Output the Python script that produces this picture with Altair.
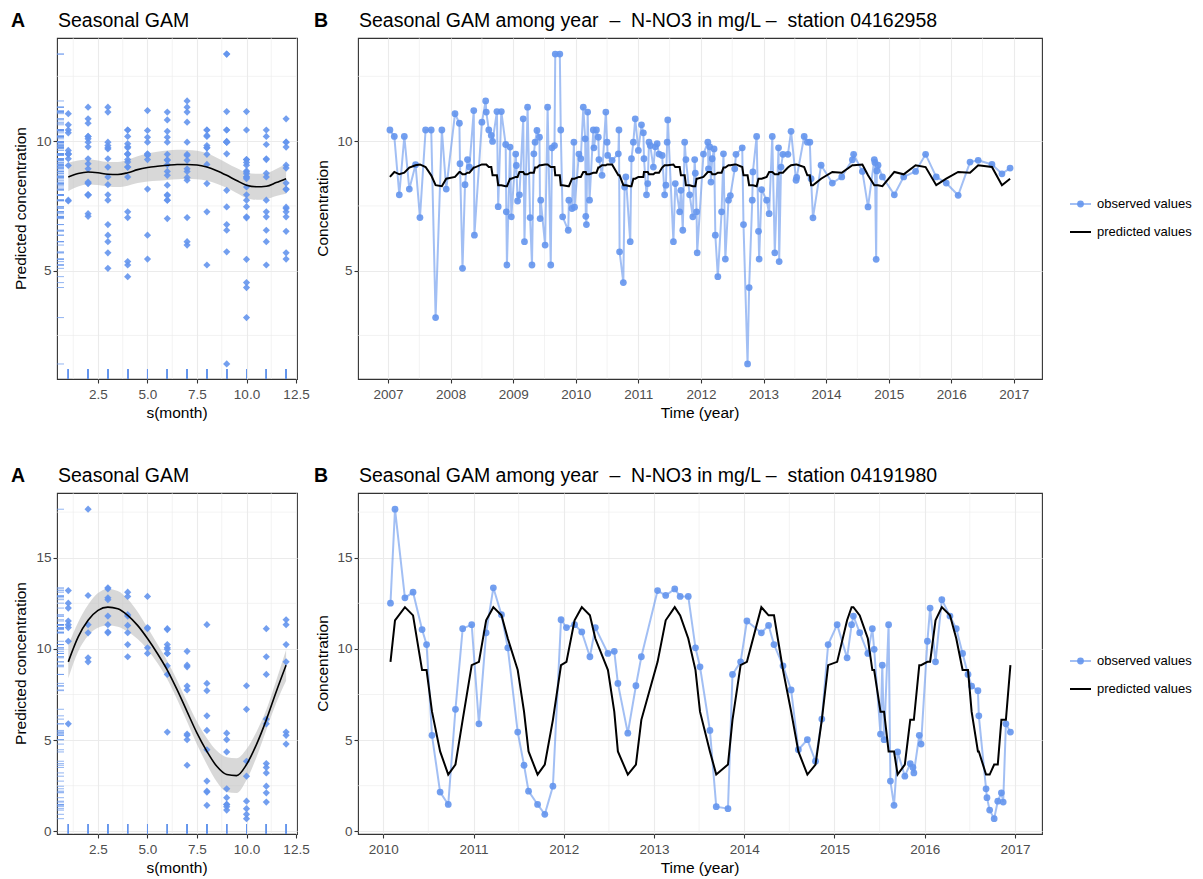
import altair as alt
import pandas as pd

FONT = "Liberation Sans"
BLUE = "#6495ED"

# ---------------- station 04162958 (top row): decimal year, N-NO3 (mg/L)
TOP_TIME = [
    2007.03, 2007.10, 2007.18, 2007.26, 2007.34, 2007.44, 2007.51, 2007.60, 2007.69, 2007.76, 2007.86, 2007.93,
    2008.07, 2008.14, 2008.15, 2008.19, 2008.23, 2008.27, 2008.30, 2008.37, 2008.38, 2008.50, 2008.56, 2008.57,
    2008.61, 2008.65, 2008.67, 2008.74, 2008.76, 2008.81, 2008.88, 2008.89, 2008.90, 2008.95, 2008.97,
    2009.04, 2009.05, 2009.07, 2009.10, 2009.16, 2009.18, 2009.23, 2009.27, 2009.30, 2009.33, 2009.35, 2009.38,
    2009.42, 2009.43, 2009.44, 2009.51, 2009.55, 2009.60, 2009.62, 2009.66, 2009.672, 2009.745, 2009.76, 2009.79,
    2009.88, 2009.89, 2009.94, 2009.97, 2009.98,
    2010.05, 2010.08, 2010.12, 2010.15, 2010.16, 2010.17, 2010.19, 2010.22, 2010.28, 2010.29, 2010.33, 2010.36,
    2010.37, 2010.42, 2010.48, 2010.50, 2010.51, 2010.58, 2010.68, 2010.69, 2010.70, 2010.76, 2010.78, 2010.80,
    2010.87, 2010.89, 2010.92, 2010.95,
    2011.00, 2011.05, 2011.08, 2011.09, 2011.13, 2011.15, 2011.17, 2011.19, 2011.24, 2011.27, 2011.30, 2011.33,
    2011.38, 2011.42, 2011.44, 2011.46, 2011.47, 2011.56, 2011.59, 2011.66, 2011.68, 2011.71, 2011.74, 2011.76,
    2011.82, 2011.87, 2011.90, 2011.91, 2011.93, 2011.94,
    2012.04, 2012.11, 2012.12, 2012.14, 2012.16, 2012.18, 2012.21, 2012.23, 2012.27, 2012.33, 2012.36, 2012.39,
    2012.44, 2012.47, 2012.54, 2012.56, 2012.66, 2012.68, 2012.745, 2012.77, 2012.82, 2012.83, 2012.89, 2012.92,
    2012.93, 2012.97,
    2013.05, 2013.09, 2013.14, 2013.18, 2013.24, 2013.25, 2013.28, 2013.31, 2013.39, 2013.44, 2013.52, 2013.53,
    2013.65, 2013.70, 2013.74, 2013.76, 2013.79, 2013.92,
    2014.10, 2014.25, 2014.42, 2014.44, 2014.58, 2014.67, 2014.77, 2014.78, 2014.80, 2014.81, 2014.83, 2014.90,
    2015.09, 2015.24, 2015.43, 2015.59, 2015.76, 2015.92,
    2016.11, 2016.30, 2016.43, 2016.65, 2016.81, 2016.94,
]
TOP_VALUE = [
    10.43, 10.18, 7.93, 10.18, 8.15, 9.09, 7.05, 10.43, 10.43, 3.19, 10.43, 8.15,
    11.06, 10.69, 9.13, 5.09, 8.32, 9.29, 9.00, 11.18, 6.37, 10.73, 11.55, 11.12,
    10.43, 10.22, 9.99, 11.14, 7.47, 11.14, 9.87, 7.27, 5.22, 9.77, 7.08,
    9.50, 9.06, 7.69, 7.93, 10.86, 6.12, 11.31, 7.05, 5.22, 9.51, 9.96, 10.41,
    10.15, 7.01, 7.72, 5.99, 11.31, 5.22, 9.74, 9.83, 13.36, 13.36, 10.43, 7.08,
    6.56, 7.72, 7.40, 9.96, 7.45,
    9.50, 9.32, 11.31, 10.09, 7.10, 6.78, 11.12, 7.72, 10.43, 9.74, 10.43, 10.15,
    9.29, 8.68, 11.12, 9.96, 9.45, 9.26, 9.51, 10.43, 5.73, 4.54, 8.23, 8.62,
    6.12, 9.32, 9.96, 10.86,
    9.64, 10.63, 10.32, 9.32, 7.93, 8.36, 9.96, 9.83, 9.00, 9.78, 9.90, 9.50,
    9.45, 7.93, 8.30, 9.96, 10.82, 6.12, 8.36, 7.27, 8.10, 6.56, 9.96, 9.29,
    7.93, 7.08, 9.29, 8.76, 7.27, 5.69,
    9.50, 9.96, 8.93, 9.78, 8.42, 9.32, 9.70, 6.37, 4.77, 7.27, 9.51, 5.45,
    7.72, 7.90, 8.93, 9.49, 9.74, 6.78, 1.40, 4.35, 7.72, 8.81, 10.18, 6.52,
    5.45, 8.13,
    7.72, 7.20, 10.18, 5.69, 9.74, 5.35, 9.00, 9.49, 9.49, 10.38, 8.49, 8.60,
    10.18, 9.96, 9.96, 8.55, 7.04, 9.07,
    8.38, 8.62, 9.28, 9.49, 8.83, 7.46, 9.29, 9.18, 5.44, 8.85, 9.07, 8.62,
    7.93, 8.62, 8.83, 9.49, 8.62, 8.38,
    7.91, 9.19, 9.26, 9.10, 8.74, 8.96,
]

# ---------------- station 04191980 (bottom row)
BOT_TIME = [
    2010.08, 2010.13, 2010.24, 2010.33, 2010.43, 2010.48, 2010.54, 2010.63, 2010.72, 2010.80, 2010.88, 2010.98,
    2011.06, 2011.14, 2011.22, 2011.31, 2011.38, 2011.49, 2011.56, 2011.61, 2011.71, 2011.79, 2011.88, 2011.97,
    2012.03, 2012.12, 2012.20, 2012.29, 2012.35, 2012.49, 2012.56, 2012.60, 2012.71, 2012.80, 2012.86,
    2013.04, 2013.13, 2013.23, 2013.29, 2013.38, 2013.46, 2013.51, 2013.62, 2013.69, 2013.82, 2013.87, 2013.96,
    2014.03, 2014.19, 2014.27, 2014.33, 2014.43, 2014.52, 2014.60, 2014.70, 2014.79, 2014.86, 2014.93,
    2015.03, 2015.14, 2015.19, 2015.21, 2015.28, 2015.37, 2015.42, 2015.44, 2015.51, 2015.53, 2015.55, 2015.60,
    2015.62, 2015.66, 2015.70, 2015.78, 2015.84, 2015.87, 2015.88, 2015.94, 2015.96,
    2016.03, 2016.06, 2016.12, 2016.19, 2016.28, 2016.35, 2016.42, 2016.48, 2016.52, 2016.59, 2016.60, 2016.68,
    2016.69, 2016.72, 2016.77, 2016.81, 2016.85, 2016.87, 2016.90, 2016.95,
]
BOT_VALUE = [
    12.51, 17.66, 12.80, 13.11, 11.06, 10.24, 5.26, 2.15, 1.47, 6.69, 11.11, 11.33,
    5.89, 10.88, 13.35, 11.88, 10.06, 5.44, 3.62, 2.20, 1.47, 0.93, 2.47, 11.60,
    11.17, 11.33, 10.93, 9.57, 11.17, 9.75, 9.87, 8.11, 5.38, 7.98, 9.57,
    13.20, 12.93, 13.29, 12.88, 12.88, 10.06, 9.02, 5.53, 1.35, 1.24, 8.60, 9.29,
    11.53, 10.88, 11.29, 10.24, 9.07, 7.75, 4.47, 5.02, 3.84, 6.15, 10.24,
    11.33, 9.51, 11.33, 11.80, 10.89, 9.75, 11.11, 9.98, 5.33, 9.11, 5.02, 11.33,
    2.75, 1.42, 4.35, 3.02, 3.71, 3.50, 3.20, 5.26, 4.78,
    10.42, 12.24, 9.29, 12.70, 11.80, 11.11, 9.75, 8.60, 7.96, 7.71, 6.33, 2.33,
    1.84, 1.16, 0.69, 1.65, 2.11, 1.60, 5.89, 5.44,
]

# ---------------- seasonal GAM fits (month grid) with standard errors
GAM_MONTH = [1, 1.5, 2, 2.5, 3, 3.5, 4, 4.5, 5, 5.5, 6, 6.5, 7, 7.5, 8, 8.5, 9, 9.5, 10, 10.5, 11, 11.5, 12]
TOP_FIT = [8.62, 8.75, 8.81, 8.78, 8.72, 8.71, 8.78, 8.90, 8.98, 9.03, 9.07, 9.10, 9.10, 9.08, 9.00, 8.86,
           8.68, 8.48, 8.30, 8.24, 8.26, 8.40, 8.55]
TOP_SE = [0.55, 0.50, 0.48, 0.47, 0.47, 0.48, 0.50, 0.52, 0.54, 0.56, 0.57, 0.57, 0.56, 0.55, 0.53, 0.50,
          0.48, 0.48, 0.49, 0.50, 0.50, 0.52, 0.58]
BOT_FIT = [9.29, 10.66, 11.57, 12.11, 12.29, 12.20, 11.84, 11.29, 10.57, 9.75, 8.84, 7.75, 6.56, 5.38, 4.38,
           3.56, 3.11, 3.05, 3.66, 4.75, 6.11, 7.65, 9.11]
BOT_SE = [0.90, 0.80, 0.85, 0.95, 1.00, 0.98, 0.90, 0.75, 0.60, 0.52, 0.50, 0.52, 0.55, 0.62, 0.72, 0.85,
          0.95, 0.95, 0.85, 0.70, 0.55, 0.62, 0.85]

# ---------------- axis ticks / texts
MONTH_TICKS = [2.5, 5.0, 7.5, 10.0, 12.5]
MONTH_MINOR = [1.25, 3.75, 6.25, 8.75, 11.25]
TOP_Y_TICKS = [5, 10]
TOP_Y_MINOR = [2.5, 7.5, 12.5]
BOT_Y_TICKS = [0, 5, 10, 15]
BOT_Y_MINOR = [2.5, 7.5, 12.5, 17.5]
TOP_YEARS = list(range(2007, 2018))
TOP_YEAR_MINOR = [y + 0.5 for y in range(2007, 2017)]
BOT_YEARS = list(range(2010, 2018))
BOT_YEAR_MINOR = [y + 0.5 for y in range(2010, 2017)]
NB = "\u00a0"
TITLE_A = "Seasonal GAM"
TITLE_B_TOP = f"Seasonal GAM among year {NB}\u2013{NB} N-NO3 in mg/L \u2013{NB} station 04162958"
TITLE_B_BOT = f"Seasonal GAM among year {NB}\u2013{NB} N-NO3 in mg/L \u2013{NB} station 04191980"
LEGEND = ["observed values", "predicted values"]

assert len(TOP_TIME) == len(TOP_VALUE)
assert len(BOT_TIME) == len(BOT_VALUE)

W_A, W_B, H = 240, 684, 341
TITLE_SIZE = 19.5
AXIS_TITLE_SIZE = 15.5


def month_of(t):
    frac = t - int(t)
    return min(12, int(frac * 12 + 1e-9) + 1)


def text(label, x, y, size, weight="normal", angle=0, align="left", baseline="alphabetic", color="black"):
    return alt.Chart(pd.DataFrame({"label": [label]})).mark_text(
        font=FONT, fontSize=size, fontWeight=weight, angle=angle, align=align,
        baseline=baseline, color=color
    ).encode(text="label:N", x=alt.value(x), y=alt.value(y))


def panel_a(times, values, fit, se, ydom, yticks, yminor):
    obs = pd.DataFrame({"month": [month_of(t) for t in times], "value": values})
    gam = pd.DataFrame({"m": GAM_MONTH, "fit": fit,
                        "lo": [f - s for f, s in zip(fit, se)],
                        "hi": [f + s for f, s in zip(fit, se)]})
    xs = alt.Scale(domain=[0.43, 12.55], nice=False, zero=False)
    ys = alt.Scale(domain=ydom, nice=False, zero=False)
    xa = alt.Axis(values=MONTH_TICKS, format=".1f", title=None, grid=True)
    ya = alt.Axis(values=yticks, format="d", title=None, grid=True)
    X = lambda f: alt.X(f, scale=xs, axis=xa)
    Y = lambda f: alt.Y(f, scale=ys, axis=ya)

    vgrid = alt.Chart(pd.DataFrame({"x": MONTH_MINOR})).mark_rule(color="#EBEBEB", strokeWidth=0.6).encode(x=X("x:Q"))
    hgrid = alt.Chart(pd.DataFrame({"y": yminor})).mark_rule(color="#EBEBEB", strokeWidth=0.6).encode(y=Y("y:Q"))
    ribbon = alt.Chart(gam).mark_area(color="#BEBEBE", opacity=0.6, interpolate="monotone").encode(
        x=X("m:Q"), y=Y("lo:Q"), y2="hi:Q")
    rug_y = alt.Chart(obs).mark_rule(color=BLUE, strokeWidth=0.7).encode(
        y=Y("value:Q"), x=alt.value(0), x2=alt.value(7))
    rug_x = alt.Chart(obs).mark_rule(color=BLUE, strokeWidth=0.7).encode(
        x=X("month:Q"), y=alt.value(H - 10), y2=alt.value(H))
    pts = alt.Chart(obs).mark_point(shape="diamond", filled=True, size=52, color=BLUE, opacity=0.9,
                                    strokeWidth=0).encode(x=X("month:Q"), y=Y("value:Q"))
    line = alt.Chart(gam).mark_line(color="black", strokeWidth=1.6, interpolate="monotone").encode(
        x=X("m:Q"), y=Y("fit:Q"))
    t1 = text("A", -46, -11, TITLE_SIZE, weight="bold")
    t2 = text(TITLE_A, 1, -11, TITLE_SIZE)
    t3 = text("s(month)", W_A / 2, H + 39, AXIS_TITLE_SIZE, align="center")
    t4 = text("Predicted concentration", -31, H / 2, AXIS_TITLE_SIZE, angle=270, align="center")
    return alt.layer(vgrid, hgrid, ribbon, pts, rug_y, rug_x, line, t1, t2, t3, t4).properties(
        width=W_A, height=H)


def panel_b(times, values, fit, xdom, years, yminor_x, ydom, yticks, yminor, title, leg_y):
    lookup = dict(zip(GAM_MONTH, fit))
    obs = pd.DataFrame({"t": times, "v": values,
                        "pred": [lookup[month_of(t)] for t in times]})
    xs = alt.Scale(domain=xdom, nice=False, zero=False)
    ys = alt.Scale(domain=ydom, nice=False, zero=False)
    xa = alt.Axis(values=years, format="d", title=None, grid=True)
    ya = alt.Axis(values=yticks, format="d", title=None, grid=True)
    X = lambda f: alt.X(f, scale=xs, axis=xa)
    Y = lambda f: alt.Y(f, scale=ys, axis=ya)

    vgrid = alt.Chart(pd.DataFrame({"x": yminor_x})).mark_rule(color="#EBEBEB", strokeWidth=0.6).encode(x=X("x:Q"))
    hgrid = alt.Chart(pd.DataFrame({"y": yminor})).mark_rule(color="#EBEBEB", strokeWidth=0.6).encode(y=Y("y:Q"))
    oline = alt.Chart(obs).mark_line(color=BLUE, strokeOpacity=0.6, strokeWidth=2).encode(
        x=X("t:Q"), y=Y("v:Q"), order="t:Q")
    pts = alt.Chart(obs).mark_circle(size=46, color=BLUE, opacity=0.9).encode(x=X("t:Q"), y=Y("v:Q"))
    pline = alt.Chart(obs).mark_line(color="black", strokeWidth=2).encode(
        x=X("t:Q"), y=Y("pred:Q"), order="t:Q")
    t1 = text("B", -44, -11, TITLE_SIZE, weight="bold")
    t2 = text(title, 1, -11, TITLE_SIZE)
    t3 = text("Time (year)", W_B / 2, H + 39, AXIS_TITLE_SIZE, align="center")
    t4 = text("Concentration", -30, H / 2, AXIS_TITLE_SIZE, angle=270, align="center")
    # legend
    l_rule1 = alt.Chart(pd.DataFrame({"label": [LEGEND[0]]})).mark_rule(
        color=BLUE, strokeOpacity=0.6, strokeWidth=2).encode(
        x=alt.value(712), x2=alt.value(733), y=alt.value(leg_y))
    l_pt = alt.Chart(pd.DataFrame({"label": [LEGEND[0]]})).mark_circle(size=46, color=BLUE, opacity=0.9).encode(
        x=alt.value(722.5), y=alt.value(leg_y))
    l_t1 = text(LEGEND[0], 739, leg_y, 13, baseline="middle")
    l_rule2 = alt.Chart(pd.DataFrame({"label": [LEGEND[1]]})).mark_rule(
        color="black", strokeWidth=2).encode(
        x=alt.value(712), x2=alt.value(733), y=alt.value(leg_y + 28))
    l_t2 = text(LEGEND[1], 739, leg_y + 28, 13, baseline="middle")
    return alt.layer(vgrid, hgrid, oline, pts, pline, t1, t2, t3, t4,
                     l_rule1, l_pt, l_t1, l_rule2, l_t2).properties(width=W_B, height=H)


top_a = panel_a(TOP_TIME, TOP_VALUE, TOP_FIT, TOP_SE, [0.82, 13.98], TOP_Y_TICKS, TOP_Y_MINOR)
top_b = panel_b(TOP_TIME, TOP_VALUE, TOP_FIT, [2006.52, 2017.45], TOP_YEARS, TOP_YEAR_MINOR,
                [0.82, 13.98], TOP_Y_TICKS, TOP_Y_MINOR, TITLE_B_TOP, 166)
bot_a = panel_a(BOT_TIME, BOT_VALUE, BOT_FIT, BOT_SE, [-0.15, 18.55], BOT_Y_TICKS, BOT_Y_MINOR)
bot_b = panel_b(BOT_TIME, BOT_VALUE, BOT_FIT, [2009.72, 2017.3], BOT_YEARS, BOT_YEAR_MINOR,
                [-0.15, 18.55], BOT_Y_TICKS, BOT_Y_MINOR, TITLE_B_BOT, 168)

chart = alt.ConcatChart(
    concat=[top_a, top_b, bot_a, bot_b], columns=2,
    spacing=alt.RowColnumber(row=114, column=61), bounds="flush",
).properties(
    padding={"left": 2, "top": 2, "right": 2, "bottom": 2}, background="white"
).configure_view(
    stroke="#333333", strokeWidth=1.1
).configure_axis(
    domain=False, tickColor="#333333", tickSize=4, tickWidth=1.1,
    labelColor="#4D4D4D", labelFont=FONT, labelFontSize=13.5,
    gridColor="#EBEBEB", gridWidth=1.1, labelFlush=False, labelOverlap=False
).configure_axisX(labelPadding=4).configure_axisY(labelPadding=2)

chart.save("out.html", embed_options={"renderer": "svg", "actions": False})
